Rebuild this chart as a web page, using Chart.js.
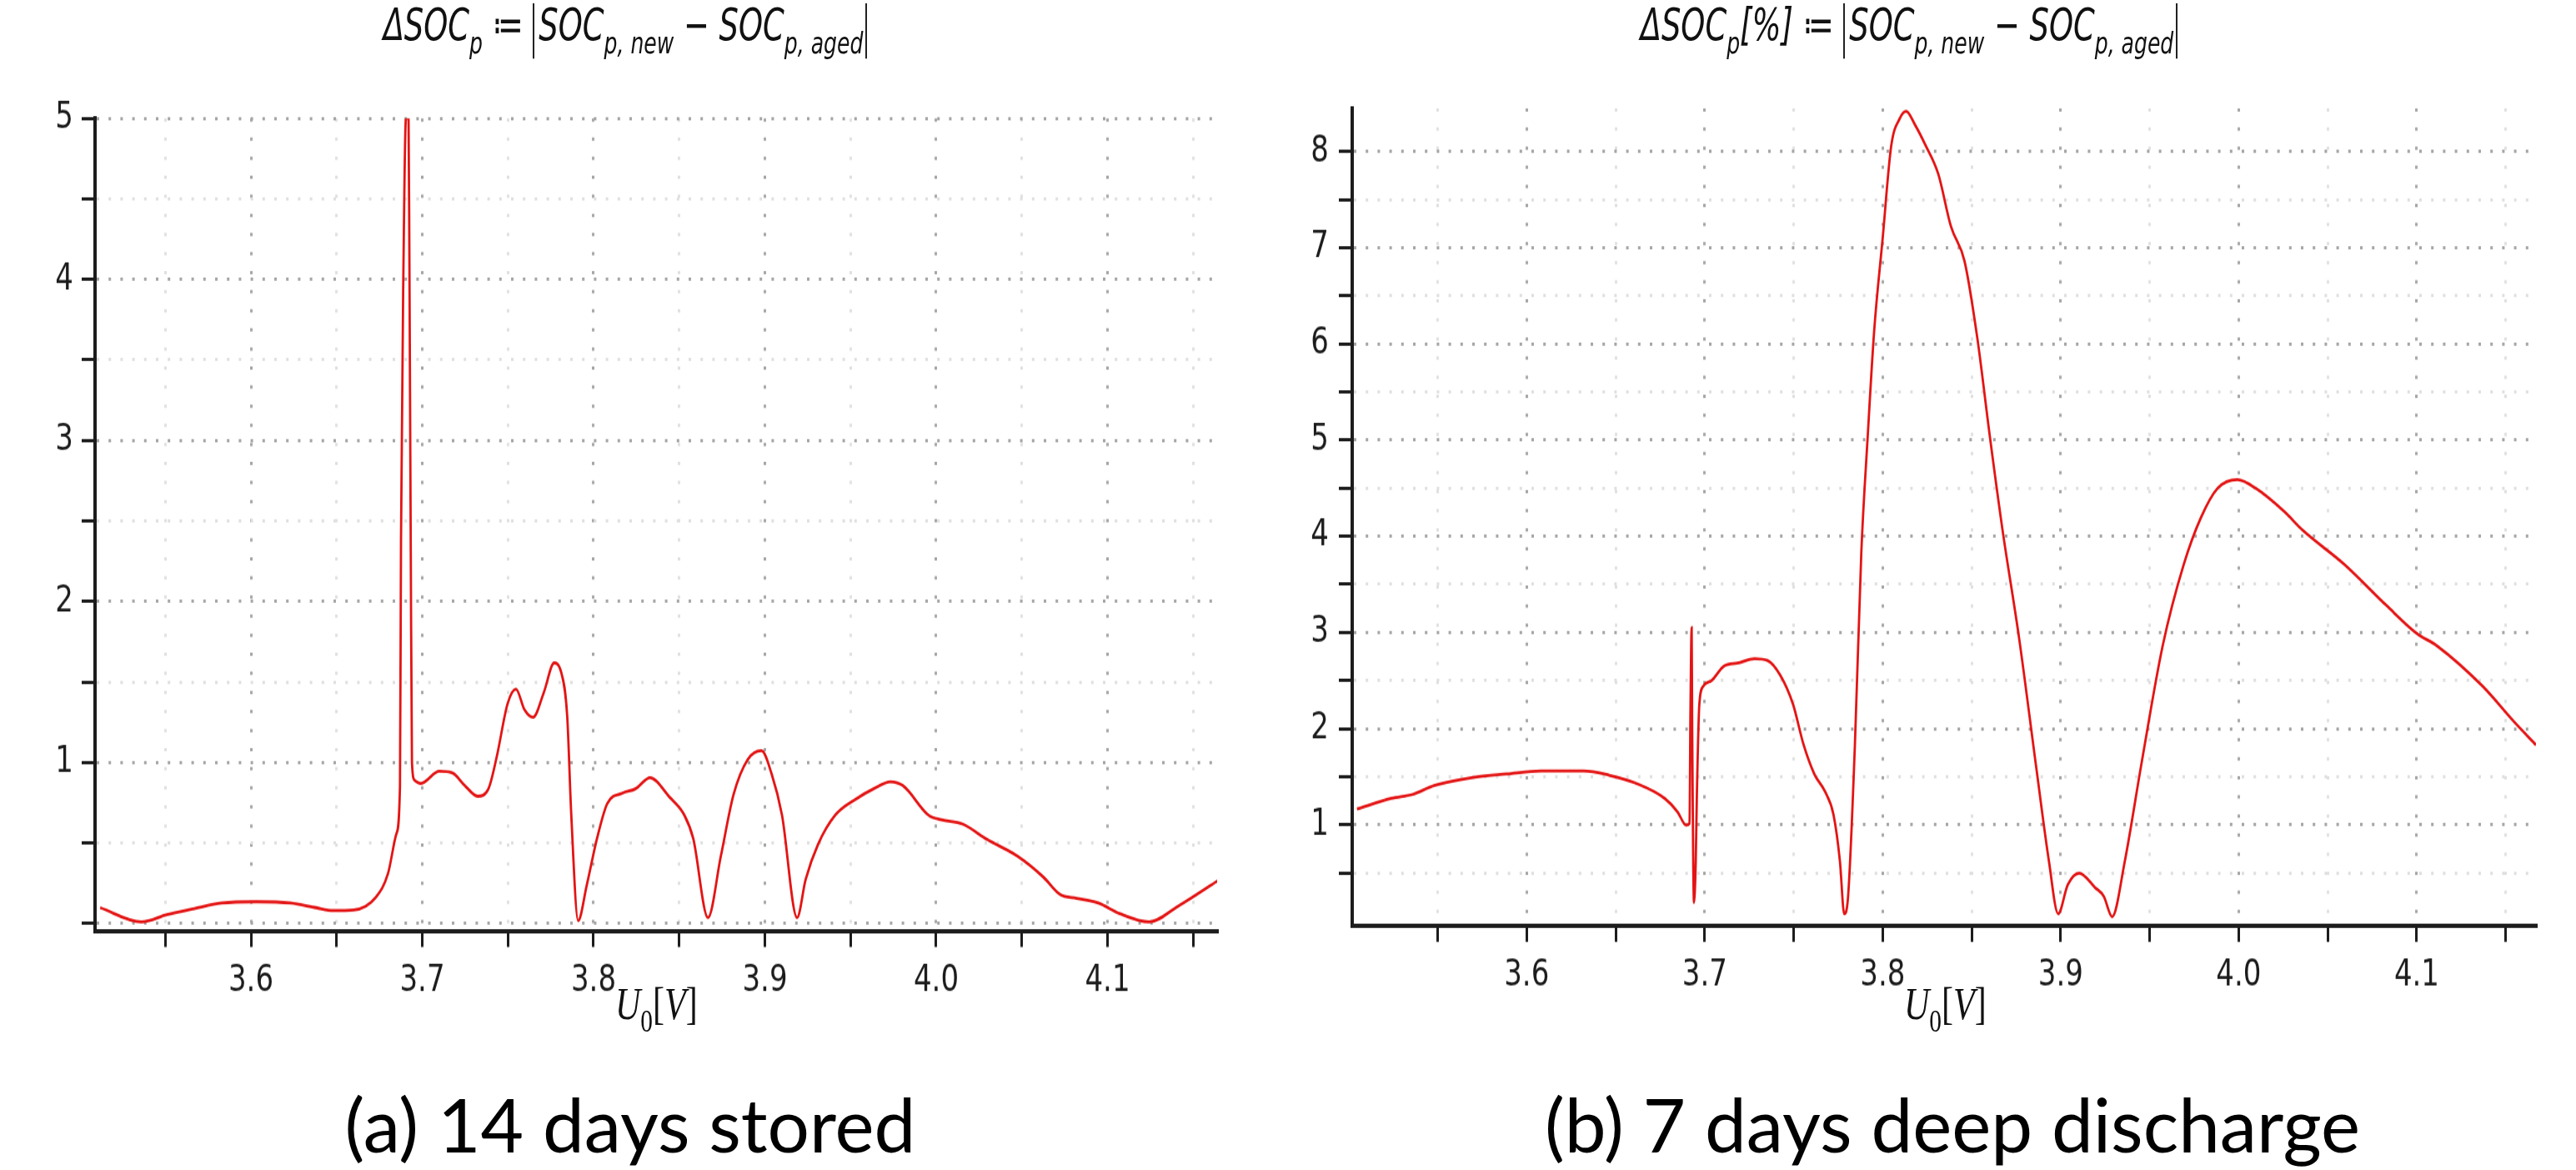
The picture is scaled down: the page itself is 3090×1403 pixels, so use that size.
<!DOCTYPE html>
<html>
<head>
<meta charset="utf-8">
<script src="https://cdn.jsdelivr.net/npm/chart.js@4.4.1/dist/chart.umd.min.js"></script>
<style>
  html, body { margin: 0; padding: 0; background: #fff; }
  body { width: 3090px; height: 1403px; position: relative; overflow: hidden; }
  /* the source plots are stretched vertically, so the canvases are too */
  canvas { position: absolute; top: 0; transform: scaleY(1.3); transform-origin: 0 0; }
  #chartA { left: 0; }
  #chartB { left: 1545px; }
  .ttl { position: absolute; top: 4px; width: 1000px; text-align: center; white-space: nowrap;
         font-family: "DejaVu Sans"; font-stretch: condensed; font-style: italic; font-size: 41px;
         line-height: 1; color: #111; transform: scaleY(1.3); transform-origin: 50% 0; }
  .ttl sub { font-size: 0.68em; vertical-align: -0.45em; line-height: 1; }
  .bars { display: inline-block; border-left: 2px solid #222; border-right: 2px solid #222; padding: 0 3px 0 5px; }
  .xt { position: absolute; top: 1176px; font-family: "Liberation Serif"; font-size: 42px; line-height: 1;
        color: #111; transform: scaleY(1.3); transform-origin: 0 0; white-space: nowrap; }
  .xt sub { font-size: 0.7em; vertical-align: -0.4em; font-style: normal; }
  .cap { position: absolute; top: 1303px; width: 1200px; text-align: center; font-family: Lato;
         font-size: 89px; line-height: 1; color: #000; }
</style>
</head>
<body>
<canvas id="chartA" width="1545" height="969"></canvas>
<canvas id="chartB" width="1545" height="969"></canvas>

<div class="ttl" style="left:250px">&Delta;SOC<sub>p</sub> &#8788; <span class="bars">SOC<sub>p, new</sub> &minus; SOC<sub>p, aged</sub></span></div>
<div class="ttl" style="left:1790px">&Delta;SOC<sub>p</sub>[%] &#8788; <span class="bars">SOC<sub>p, new</sub> &minus; SOC<sub>p, aged</sub></span></div>

<div class="xt" style="left:738px"><i>U</i><sub>0</sub>[<i>V</i>]</div>
<div class="xt" style="left:2284px"><i>U</i><sub>0</sub>[<i>V</i>]</div>

<div class="cap" style="left:156px">(a) 14 days stored</div>
<div class="cap" style="left:1742px">(b) 7 days deep discharge</div>

<script>
// (a) 14 days stored
const u0A = [3.512, 3.536, 3.551, 3.566, 3.583, 3.603, 3.623, 3.638, 3.648, 3.660,
  3.673, 3.680, 3.685, 3.687, 3.6876, 3.689, 3.6905, 3.692, 3.6925, 3.6933,
  3.694, 3.6955, 3.699, 3.710, 3.7175, 3.725, 3.7323, 3.7386, 3.7435, 3.7498,
  3.7547, 3.7597, 3.7647, 3.771, 3.777, 3.781, 3.7846, 3.787, 3.791, 3.796,
  3.802, 3.808, 3.817, 3.8244, 3.833, 3.8446, 3.853, 3.8582, 3.8668, 3.8743,
  3.8817, 3.890, 3.898, 3.904, 3.910, 3.9188, 3.9238, 3.931, 3.9411, 3.9535,
  3.9634, 3.9733, 3.9807, 3.9955, 4.003, 4.0153, 4.030, 4.0475, 4.0624, 4.0723,
  4.082, 4.0946, 4.107, 4.1243, 4.1416, 4.165];
const dSocA = [0.098, 0.01, 0.055, 0.09, 0.127, 0.135, 0.127, 0.098, 0.08, 0.084,
  0.164, 0.31, 0.56, 0.85, 2.38, 4.05, 5.0, 5.0, 4.13, 2.31,
  1.0, 0.89, 0.87, 0.945, 0.935, 0.855, 0.79, 0.836, 1.036, 1.364,
  1.455, 1.327, 1.28, 1.436, 1.618, 1.564, 1.29, 0.673, 0.018, 0.236,
  0.527, 0.745, 0.81, 0.836, 0.905, 0.782, 0.673, 0.527, 0.036, 0.418,
  0.8, 1.018, 1.073, 0.927, 0.673, 0.036, 0.273, 0.49, 0.673, 0.775,
  0.836, 0.88, 0.855, 0.673, 0.644, 0.618, 0.52, 0.418, 0.29, 0.18,
  0.156, 0.127, 0.062, 0.01, 0.11, 0.27];

// (b) 7 days deep discharge
const u0B = [3.5047, 3.524, 3.536, 3.548, 3.572, 3.5887, 3.608, 3.632, 3.6463, 3.6607,
  3.6776, 3.6848, 3.6896, 3.6915, 3.692, 3.6927, 3.693, 3.694, 3.695, 3.6956,
  3.697, 3.6992, 3.704, 3.711, 3.7184, 3.728, 3.7352, 3.7424, 3.7496, 3.7556,
  3.7616, 3.7676, 3.7724, 3.776, 3.7784, 3.7803, 3.7844, 3.788, 3.7916, 3.7952,
  3.80, 3.8048, 3.8096, 3.8132, 3.818, 3.824, 3.8312, 3.8384, 3.846, 3.8531,
  3.8602, 3.8673, 3.8768, 3.8863, 3.8934, 3.8986, 3.904, 3.9104, 3.9194, 3.9242,
  3.9289, 3.936, 3.9455, 3.9573, 3.9692, 3.9787, 3.9882, 3.9993, 4.0095, 4.026,
  4.0355, 4.0592, 4.083, 4.1, 4.1114, 4.137, 4.1547, 4.167];
const dSocB = [1.164, 1.273, 1.315, 1.406, 1.497, 1.527, 1.558, 1.558, 1.515, 1.436,
  1.273, 1.133, 0.994, 1.012, 2.13, 3.05, 2.01, 0.19, 0.62, 1.28,
  2.25, 2.44, 2.5, 2.65, 2.68, 2.727, 2.71, 2.557, 2.255, 1.83,
  1.527, 1.345, 1.103, 0.618, 0.073, 0.194, 1.83, 3.83, 5.04, 6.13,
  7.1, 8.06, 8.345, 8.42, 8.285, 8.07, 7.77, 7.22, 6.86, 6.07,
  5.04, 4.07, 2.92, 1.59, 0.62, 0.073, 0.376, 0.497, 0.345, 0.255,
  0.042, 0.618, 1.648, 2.86, 3.71, 4.19, 4.5, 4.59, 4.5, 4.25,
  4.07, 3.71, 3.28, 2.99, 2.86, 2.44, 2.07, 1.83];

// tick positions (labelled majors, unlabelled minors)
const xMajor = [3.6, 3.7, 3.8, 3.9, 4.0, 4.1];
const xMinor = [3.55, 3.65, 3.75, 3.85, 3.95, 4.05, 4.15];
const yMajorA = [1, 2, 3, 4, 5];
const yMinorA = [0, 0.5, 1.5, 2.5, 3.5, 4.5];
const yMajorB = [1, 2, 3, 4, 5, 6, 7, 8];
const yMinorB = [0.5, 1.5, 2.5, 3.5, 4.5, 5.5, 6.5, 7.5];

const has = (list, v) => list.some(m => Math.abs(m - v) < 1e-6);
const MAJOR_GRID = '#a6a6a6';
const MINOR_GRID = '#e0e0e0';
const INK = '#1c1c1c';
const tickFont = { family: 'DejaVu Sans', size: 34 };

function drawPanel(id, xs, ys, cfg) {
  const ctx = document.getElementById(id);
  const xTicks = xMajor.concat(xMinor).sort((a, b) => a - b);
  const yTicks = cfg.yMajor.concat(cfg.yMinor).sort((a, b) => a - b);

  new Chart(ctx, {
    type: 'line',
    data: {
      datasets: [{
        data: xs.map((x, i) => ({ x: x, y: ys[i] })),
        borderColor: 'rgb(228,20,20)',
        borderWidth: 2.8,
        pointRadius: 0,
        fill: false,
        cubicInterpolationMode: 'monotone'
      }]
    },
    options: {
      responsive: false,
      animation: false,
      events: [],
      layout: { padding: { top: cfg.top, right: cfg.right, left: 0, bottom: 0 } },
      plugins: { legend: { display: false }, tooltip: { enabled: false } },
      scales: {
        x: {
          type: 'linear',
          min: cfg.xMin,
          max: cfg.xMax,
          afterBuildTicks: axis => { axis.ticks = xTicks.map(v => ({ value: v })); },
          afterFit: axis => { axis.height = cfg.xHeight; },
          ticks: {
            autoSkip: false, maxRotation: 0, padding: 11, color: INK, font: tickFont,
            callback: v => has(xMajor, v) ? v.toFixed(1) : ''
          },
          grid: {
            color: c => has(xMajor, c.tick.value) ? MAJOR_GRID : MINOR_GRID,
            lineWidth: 3, tickLength: 15, tickColor: INK, tickWidth: 3
          },
          border: { color: INK, width: 4, dash: [3, 14.6] }
        },
        y: {
          min: cfg.yMin,
          max: cfg.yMax,
          afterBuildTicks: axis => { axis.ticks = yTicks.map(v => ({ value: v })); },
          afterFit: axis => { axis.width = cfg.yWidth; },
          ticks: {
            autoSkip: false, padding: cfg.yPad, color: INK, font: tickFont,
            callback: v => has(cfg.yMajor, v) ? String(v) : ''
          },
          grid: {
            color: c => (has(cfg.yMajor, c.tick.value) || c.tick.value === 0) ? MAJOR_GRID : MINOR_GRID,
            lineWidth: 3, tickLength: 16, tickColor: INK, tickWidth: 3
          },
          border: { color: INK, width: 4, dash: [3, 11.2] }
        }
      }
    }
  });
}

drawPanel('chartA', u0A, dSocA, {
  xMin: 3.509, xMax: 4.164, yMin: -0.045, yMax: 5,
  yMajor: yMajorA, yMinor: yMinorA,
  top: 109.2, right: 85, xHeight: 110.5, yWidth: 114, yPad: 10
});

drawPanel('chartB', u0B, dSocB, {
  xMin: 3.502, xMax: 4.167, yMin: -0.05, yMax: 8.45,
  yMajor: yMajorB, yMinor: yMinorB,
  top: 100, right: 48, xHeight: 115.2, yWidth: 77, yPad: 12
});
</script>
</body>
</html>
